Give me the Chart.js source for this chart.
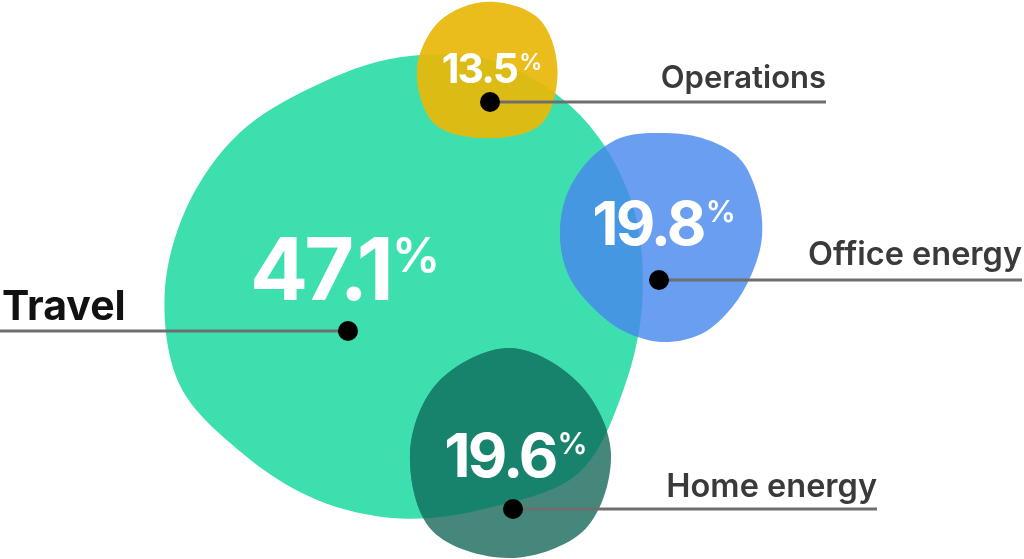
<!DOCTYPE html>
<html>
<head>
<meta charset="utf-8">
<script src="https://cdn.jsdelivr.net/npm/chart.js@4.4.1/dist/chart.umd.min.js"></script>
<style>
  html, body { margin: 0; padding: 0; background: #ffffff; }
  #wrap { width: 1024px; height: 559px; position: relative; }
</style>
</head>
<body>
<div id="wrap"><canvas id="c"></canvas></div>
<script>
// ---- data ----
const categories = ['Travel', 'Operations', 'Office energy', 'Home energy'];
const shares = [47.1, 13.5, 19.8, 19.6];            // percent
const shareLabels = ['47.1', '13.5', '19.8', '19.6'];

// ---- layout (blob centres in the chart's own 1024 x 559 layout units) ----
const centreX = [400, 488, 661, 510];
const centreY = [295, 70, 237, 453];
const radiusPerPercent = 5.1;

// ---- styles ----
const styles = [
  { fill: '#3ddfae', overlap: null,
    profile: [1.01,1.01,1.05,0.96,0.93,0.92,0.93,0.99,0.98,0.96,0.95,0.94,0.99,1.05,1.06,1.04],
    dot: [-52, 36], pct: [-55, 5], pctSize: 86, pctSup: 48,
    label: { side: 'left', end: 0, font: '700 41px Inter', color: '#111111', rise: 11, x: 2 } },
  { fill: '#ebbd1c', overlap: '#dcbb14',
    profile: [1.01,1.1,0.99,1.1,1.03,1.0,0.99,1.05],
    dot: [2, 32], pct: [4, 13], pctSize: 41, pctSup: 23,
    label: { side: 'right', end: 826, font: '600 31px Inter', color: '#3a3a3a', rise: 14 } },
  { fill: '#6a9ef0', overlap: '#4497e0',
    profile: [1.0,0.97,0.99,1.04,1.04,1.0,0.97,0.99,1.0,1.02,1.04,1.06,1.03,1.06,1.1,1.04],
    dot: [-2, 43], pct: [3, 8], pctSize: 61, pctSup: 30,
    label: { side: 'right', end: 1022, font: '600 32.5px Inter', color: '#3a3a3a', rise: 15 } },
  { fill: '#45877a', overlap: '#17836d',
    profile: [1.01,1.07,1.05,1.1,1.0,1.01,1.05,0.98],
    dot: [3, 56], pct: [6, 24], pctSize: 61, pctSup: 30,
    label: { side: 'right', end: 877, font: '600 32.5px Inter', color: '#3a3a3a', rise: 12 } }
];

function blobPath(ctx, cx, cy, r, prof) {
  const n = prof.length, pts = [];
  for (let i = 0; i < n; i++) {
    const a = i * 2 * Math.PI / n;
    pts.push([cx + r * prof[i] * Math.cos(a), cy + r * prof[i] * Math.sin(a)]);
  }
  ctx.beginPath();
  ctx.moveTo(pts[0][0], pts[0][1]);
  for (let i = 0; i < n; i++) {
    const p0 = pts[(i - 1 + n) % n], p1 = pts[i], p2 = pts[(i + 1) % n], p3 = pts[(i + 2) % n];
    ctx.bezierCurveTo(
      p1[0] + (p2[0] - p0[0]) / 6, p1[1] + (p2[1] - p0[1]) / 6,
      p2[0] - (p3[0] - p1[0]) / 6, p2[1] - (p3[1] - p1[1]) / 6,
      p2[0], p2[1]);
  }
  ctx.closePath();
}

function setSpacing(ctx, v) { try { ctx.letterSpacing = v + 'px'; } catch (e) {} }

const blobPlugin = {
  id: 'blobs',
  beforeDatasetDraw() { return false; },
  afterDatasetsDraw(chart) {
    const ctx = chart.ctx;
    const els = chart.getDatasetMeta(0).data;
    const geo = els.map((el) => ({ x: el.x, y: el.y, r: el.options.radius }));
    ctx.save();
    // blobs
    geo.forEach((g, i) => {
      const s = styles[i];
      blobPath(ctx, g.x, g.y, g.r, s.profile);
      ctx.fillStyle = s.fill;
      ctx.fill();
      if (s.overlap) {
        ctx.save();
        blobPath(ctx, geo[0].x, geo[0].y, geo[0].r, styles[0].profile);
        ctx.clip();
        blobPath(ctx, g.x, g.y, g.r, s.profile);
        ctx.fillStyle = s.overlap;
        ctx.fill();
        ctx.restore();
      }
    });
    // percentage texts
    geo.forEach((g, i) => {
      const s = styles[i];
      ctx.fillStyle = '#ffffff';
      ctx.textBaseline = 'alphabetic';
      ctx.textAlign = 'left';
      const big = `700 ${s.pctSize}px Inter`, small = `600 ${s.pctSup}px Inter`;
      const sp = -s.pctSize * 0.045;
      setSpacing(ctx, sp);
      ctx.font = big;
      const w1 = ctx.measureText(shareLabels[i]).width;
      setSpacing(ctx, 0);
      ctx.font = small;
      const w2 = ctx.measureText('%').width;
      const total = w1 + 2 + w2;
      const left = g.x + s.pct[0] - total / 2;
      const base = g.y + s.pct[1];
      setSpacing(ctx, sp);
      ctx.font = big;
      ctx.fillText(shareLabels[i], left, base);
      setSpacing(ctx, 0);
      ctx.font = small;
      ctx.fillText('%', left + w1 + 2, base - s.pctSize * 0.73 + s.pctSup * 0.73);
    });
    // leader lines, dots, category labels
    geo.forEach((g, i) => {
      const s = styles[i];
      const dx = g.x + s.dot[0], dy = g.y + s.dot[1];
      ctx.strokeStyle = '#6e6e6e';
      ctx.lineWidth = 3;
      ctx.beginPath();
      ctx.moveTo(dx, dy);
      ctx.lineTo(s.label.end, dy);
      ctx.stroke();
      ctx.fillStyle = '#000000';
      ctx.beginPath();
      ctx.arc(dx, dy, 10, 0, Math.PI * 2);
      ctx.fill();
      ctx.font = s.label.font;
      ctx.fillStyle = s.label.color;
      ctx.textBaseline = 'alphabetic';
      setSpacing(ctx, 0);
      if (s.label.side === 'left') {
        ctx.textAlign = 'left';
        ctx.fillText(categories[i], s.label.x, dy - s.label.rise);
      } else {
        ctx.textAlign = 'right';
        ctx.fillText(categories[i], s.label.end, dy - s.label.rise);
      }
    });
    ctx.restore();
  }
};

new Chart(document.getElementById('c'), {
  type: 'bubble',
  data: {
    datasets: [{
      label: 'Share of emissions',
      data: shares.map((v, i) => ({ x: centreX[i], y: centreY[i], r: v * radiusPerPercent })),
      backgroundColor: styles.map(s => s.fill),
      clip: false
    }]
  },
  options: {
    responsive: true,
    maintainAspectRatio: false,
    animation: false,
    layout: { padding: 0, autoPadding: false },
    plugins: { legend: { display: false }, tooltip: { enabled: false } },
    scales: {
      x: { type: 'linear', min: 0, max: 1024, display: false },
      y: { type: 'linear', min: 0, max: 559, reverse: true, display: false }
    }
  },
  plugins: [blobPlugin]
});
</script>
</body>
</html>
